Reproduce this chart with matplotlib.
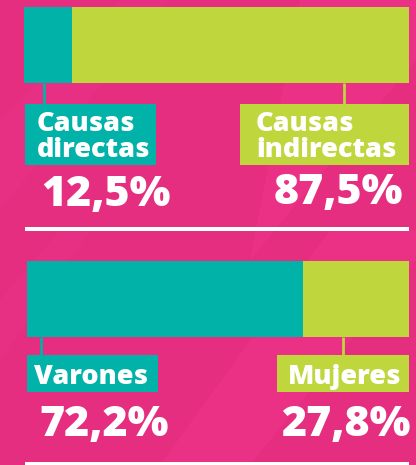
import matplotlib
matplotlib.use("Agg")
import matplotlib.pyplot as plt
from matplotlib.patches import Rectangle, Polygon

# Data
causes_labels = ["Causas\ndirectas", "Causas\nindirectas"]
causes_values = [12.5, 87.5]
sex_labels = ["Varones", "Mujeres"]
sex_values = [72.2, 27.8]
pct_text = lambda v: f"{v:.1f}".replace(".", ",") + "%"

TEAL = "#00B2A8"
LIME = "#BFD73D"
PINK = "#E52E80"
PINK_L = "#EA3186"
W, H = 416, 465

fig = plt.figure(figsize=(W / 100, H / 100), dpi=100)
fig.patch.set_facecolor(PINK)

bg = fig.add_axes([0, 0, 1, 1])
bg.set_xlim(0, W)
bg.set_ylim(H, 0)
bg.axis("off")
bg.set_facecolor(PINK)
# subtle diagonal stripes
bg.add_patch(Polygon([[300, 0], [416, 0], [416, 60], [250, 260]], closed=True, color=PINK_L, lw=0, zorder=0))
bg.add_patch(Polygon([[0, 120], [120, 0], [170, 0], [0, 210]], closed=True, color=PINK_L, lw=0, zorder=0, alpha=0.5))
bg.add_patch(Polygon([[160, 465], [330, 230], [416, 230], [416, 260], [250, 465]], closed=True, color=PINK_L, lw=0, zorder=0))
bg.add_patch(Polygon([[0, 300], [60, 230], [90, 230], [0, 360]], closed=True, color=PINK_L, lw=0, zorder=0, alpha=0.6))

FONT = "Open Sans"


def bar_axes(x0, x1, y0, y1, values):
    ax = fig.add_axes([x0 / W, 1 - y1 / H, (x1 - x0) / W, (y1 - y0) / H])
    left = 0
    for v, c in zip(values, [TEAL, LIME]):
        ax.barh([0], [v], left=left, height=1, color=c, lw=0)
        left += v
    ax.set_xlim(0, 100)
    ax.set_ylim(-0.5, 0.5)
    ax.axis("off")
    return ax


bar_axes(24, 409, 7, 83, causes_values)
bar_axes(27, 409, 261, 337, sex_values)

# connectors
for x, y0, y1, c in [(44, 83, 104, TEAL), (344, 83, 104, LIME), (41, 337, 355, TEAL), (343, 337, 355, LIME)]:
    bg.plot([x, x], [y0, y1], color=c, lw=2, solid_capstyle="butt")

# label boxes
bg.add_patch(Rectangle((25, 104), 131, 61, color=TEAL, lw=0))
bg.add_patch(Rectangle((240, 104), 169, 61, color=LIME, lw=0))
bg.add_patch(Rectangle((27, 355), 131, 37, color=TEAL, lw=0))
bg.add_patch(Rectangle((277, 355), 132, 37, color=LIME, lw=0))

lab_kw = dict(color="white", fontsize=19.5, fontweight="heavy", family=FONT, va="baseline", ha="left")
bg.text(37, 131, "Causas", **lab_kw)
bg.text(37, 157, "directas", **lab_kw)
bg.text(256, 131, "Causas", **lab_kw)
bg.text(256, 157, "indirectas", **lab_kw)
bg.text(34, 384, sex_labels[0], **lab_kw)
bg.text(288, 384, sex_labels[1], **lab_kw)

pct_kw = dict(color="white", fontsize=31, fontweight="heavy", family=FONT, va="baseline")
bg.text(41, 206, pct_text(causes_values[0]), ha="left", **pct_kw)
bg.text(403, 204, pct_text(causes_values[1]), ha="right", **pct_kw)
bg.text(39, 436, pct_text(sex_values[0]), ha="left", **pct_kw)
bg.text(411, 436, pct_text(sex_values[1]), ha="right", **pct_kw)

# separators
bg.add_patch(Rectangle((25, 227), 384, 4, color="white", lw=0))
bg.add_patch(Rectangle((25, 462), 384, 4, color="white", lw=0))

fig.savefig("out.png", dpi=100, facecolor=PINK)
